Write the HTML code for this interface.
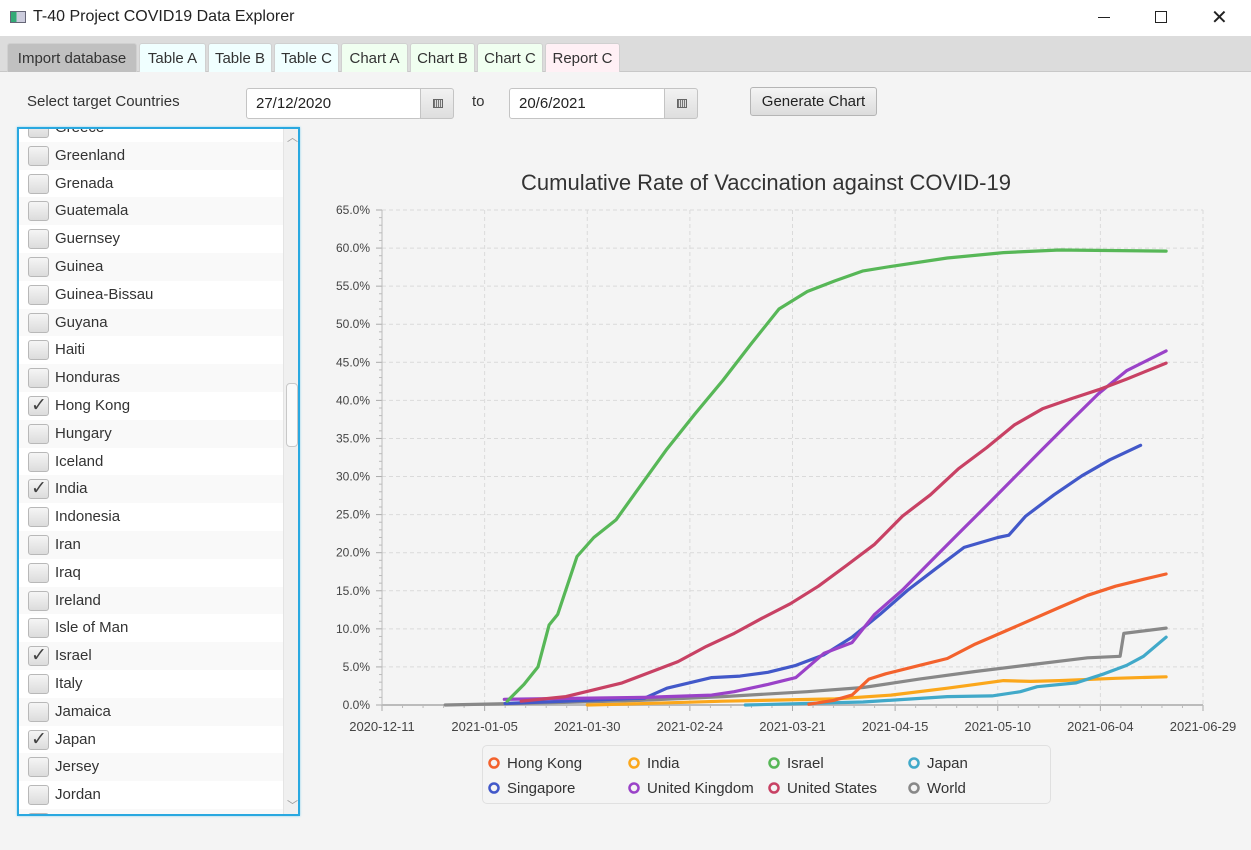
<!DOCTYPE html>
<html><head><meta charset="utf-8">
<style>
*{box-sizing:border-box}
body{margin:0;width:1251px;height:850px;overflow:hidden;background:#f4f4f4;font-family:"Liberation Sans",sans-serif;color:#333;position:relative}
.abs{position:absolute}
#titlebar{left:0;top:0;width:1251px;height:36px;background:#fff}
#tabbar{left:0;top:36px;width:1251px;height:36px;background:#dcdcdc;border-bottom:1px solid #c8c8c8}
.tab{position:absolute;top:7px;height:29px;font-size:15px;line-height:29px;text-align:center;border:1px solid #d0d0d0;border-bottom:none;border-radius:3px 3px 0 0}
.dp{height:31px;background:#fff;border:1px solid #c4c4c4;border-radius:3px;font-size:15px;line-height:29px;padding-left:9px;color:#222}
.dpb{height:31px;background:linear-gradient(#f2f2f2,#dedede);border:1px solid #c4c4c4;border-radius:0 3px 3px 0}
.row{position:absolute;left:0;width:265px;height:28px;font-size:15px;line-height:28px;padding-left:36px;color:#333}
.cb{position:absolute;left:9px;top:4px;width:21px;height:20px;border:1px solid #b8b8b8;border-radius:3px;background:linear-gradient(#f5f5f5,#dcdcdc)}
.cb span{position:absolute;left:2px;top:-5px;font-size:19px;color:#444}
</style></head><body>
<div class="abs" id="titlebar">
  <div class="abs" style="left:10px;top:11px;width:16px;height:12px;border:1px solid #667;background:linear-gradient(90deg,#3a7 0 40%,#ccd 40%)"></div>
  <div class="abs" style="left:33px;top:8px;font-size:16px;color:#222">T-40 Project COVID19 Data Explorer</div>
  <div class="abs" style="left:1098px;top:17px;width:12px;height:1px;background:#222"></div>
  <div class="abs" style="left:1155px;top:11px;width:12px;height:12px;border:1px solid #222"></div>
  <div class="abs" style="left:1211px;top:5px;font-size:20px;color:#222">✕</div>
</div>
<div class="abs" id="tabbar">
  <div class="tab" style="left:7px;width:130px;background:#c0c0c0">Import database</div>
  <div class="tab" style="left:139px;width:67px;background:#f0ffff">Table A</div>
  <div class="tab" style="left:208px;width:64px;background:#f0ffff">Table B</div>
  <div class="tab" style="left:274px;width:65px;background:#f0ffff">Table C</div>
  <div class="tab" style="left:341px;width:67px;background:#f0fff0">Chart A</div>
  <div class="tab" style="left:410px;width:65px;background:#f0fff0">Chart B</div>
  <div class="tab" style="left:477px;width:66px;background:#f0fff0">Chart C</div>
  <div class="tab" style="left:545px;width:75px;background:#fff0f5">Report C</div>
</div>
<div class="abs" style="left:27px;top:93px;font-size:15px">Select target Countries</div>
<div class="abs dp" style="left:246px;top:88px;width:176px">27/12/2020</div>
<div class="abs dpb" style="left:420px;top:88px;width:34px"><div class="abs" style="left:12px;top:10px;width:10px;height:9px;border:1px solid #666;background:repeating-linear-gradient(90deg,#777 0 1px,#ddd 1px 2px)"></div></div>
<div class="abs" style="left:472px;top:93px;font-size:15px">to</div>
<div class="abs dp" style="left:509px;top:88px;width:157px">20/6/2021</div>
<div class="abs dpb" style="left:664px;top:88px;width:34px"><div class="abs" style="left:12px;top:10px;width:10px;height:9px;border:1px solid #666;background:repeating-linear-gradient(90deg,#777 0 1px,#ddd 1px 2px)"></div></div>
<div class="abs" style="left:750px;top:87px;width:127px;height:29px;border:1px solid #b5b5b5;border-radius:3px;background:linear-gradient(#f4f4f4,#dcdcdc);font-size:15px;line-height:27px;text-align:center;color:#222">Generate Chart</div>

<div class="abs" style="left:17px;top:127px;width:283px;height:689px;border:2px solid #29a8e0;box-shadow:0 0 2px #7fd0f0;background:#fff;overflow:hidden">
  <div id="rows"></div>
  <div class="abs" style="left:264px;top:0;width:16px;height:687px;background:#f0f0f0;border-left:1px solid #e4e4e4">
    <div class="abs" style="left:2px;top:254px;width:12px;height:64px;background:#fafafa;border:1px solid #c8c8c8;border-radius:4px"></div>
    <div class="abs" style="left:3px;top:0px;font-size:11px;color:#999">︿</div>
    <div class="abs" style="left:3px;top:668px;font-size:11px;color:#999">﹀</div>
  </div>
</div>

<div class="abs" style="left:482px;top:745px;width:569px;height:59px;border:1px solid #e0e0e0;border-radius:5px;background:#f4f4f4"></div>

<svg class="abs" id="chart" style="left:0;top:0" width="1251" height="850"></svg>

<script>
const countries=["Greece","Greenland","Grenada","Guatemala","Guernsey","Guinea","Guinea-Bissau","Guyana","Haiti","Honduras","Hong Kong","Hungary","Iceland","India","Indonesia","Iran","Iraq","Ireland","Isle of Man","Israel","Italy","Jamaica","Japan","Jersey","Jordan","Kazakhstan"];
const checked=["Hong Kong","India","Israel","Japan"];
const rowsEl=document.getElementById('rows');
countries.forEach((c,i)=>{
  const r=document.createElement('div');
  r.className='row';
  r.style.top=(-15+i*27.8)+'px';
  r.style.background=i%2?'#f9f9f9':'#fff';
  
  
  const cb=document.createElement('div');cb.className='cb';
  
  
  if(checked.includes(c)){const s=document.createElement('span');s.textContent='✓';cb.appendChild(s);}
  r.appendChild(cb);
  r.appendChild(document.createTextNode(c));
  rowsEl.appendChild(r);
});

// ---- chart data (day offset from 2020-12-11, cumulative % vaccinated) ----
const seriesNames=["Hong Kong","India","Israel","Japan","Singapore","United Kingdom","United States","World"];
const seriesColors=["#f3622d","#fba71b","#57b757","#41a9c9","#4258c9","#9a42c8","#c84164","#888888"];
const hkDays=[104,110,114.5,118.6,122.7,130.9,137.7,144.5,151.4,158.2,165,171.9,178.7,185.5,191];
const hkVals=[0.1,0.6,1.3,3.4,4.1,5.2,6.1,8,9.6,11.2,12.8,14.4,15.6,16.5,17.2];
const inDays=[50,58.5,83,110.4,124,137.7,144.5,151.4,158,165,178.7,191];
const inVals=[0,0.1,0.5,0.8,1.3,2.2,2.7,3.2,3.1,3.2,3.5,3.7];
const ilDays=[30.5,34.6,38,40.7,42.8,47.5,51.6,57,61.9,69.4,76.2,83,89.9,96.7,103.6,110.4,117.2,124,137.7,151.4,165,191];
const ilVals=[0.5,2.7,5,10.5,11.9,19.5,22,24.3,28,33.6,38.2,42.6,47.4,52,54.3,55.7,57,57.6,58.7,59.4,59.75,59.6];
const jpDays=[88.5,117.2,137.7,148.6,155.5,159.6,169.1,175.9,181.4,185.5,191];
const jpVals=[0,0.4,1.1,1.2,1.75,2.4,2.9,4.1,5.2,6.4,8.9];
const sgDays=[30,64,69.4,80.3,87.2,94,100.8,107.7,114.5,121.3,128.1,134.9,141.8,150,152.7,156.8,163.7,170.5,177.3,184.8];
const sgVals=[0.2,0.9,2.2,3.6,3.8,4.3,5.2,6.6,8.9,11.9,15.1,17.9,20.7,22,22.3,24.8,27.6,30.1,32.2,34.1];
const ukDays=[29.8,63.9,80.3,85.8,94,100.8,107.7,114.5,120,126.8,133.6,140.4,147.3,154.1,160.9,167.8,174.6,181.4,191];
const ukVals=[0.75,1,1.3,1.75,2.7,3.6,6.8,8.2,11.9,15.1,18.8,22.5,26.2,29.9,33.6,37.3,40.9,43.9,46.5];
const usDays=[33.9,44.8,51.6,58.5,65.3,72.1,79,85.8,92.6,99.5,106.3,113.1,120,126.8,133.6,140.4,147.3,154.1,160.9,167.8,174.6,181.4,191];
const usVals=[0.5,1.1,2,2.9,4.3,5.7,7.7,9.4,11.4,13.3,15.6,18.3,21.1,24.8,27.6,31,33.8,36.8,38.9,40.2,41.4,42.8,44.9];
const wDays=[15.4,42,62.6,83,103.6,117.2,130.9,144.5,158.2,171.9,179.8,180.7,191];
const wVals=[0,0.3,0.6,1.1,1.75,2.3,3.4,4.4,5.3,6.2,6.4,9.4,10.1];
const xTickLabels=["2020-12-11","2021-01-05","2021-01-30","2021-02-24","2021-03-21","2021-04-15","2021-05-10","2021-06-04","2021-06-29"];
const xTickDays=[0,25,50,75,100,125,150,175,200];
const yTicks=[0,5,10,15,20,25,30,35,40,45,50,55,60,65];

const X0=382,X1=1203,Y0=705,Y1=210,DMAX=200,VMAX=65;
const xs=d=>X0+(X1-X0)*d/DMAX;
const ys=v=>Y0-(Y0-Y1)*v/VMAX;
const svg=document.getElementById('chart');
const NS='http://www.w3.org/2000/svg';
function mk(tag,attrs,parent){const e=document.createElementNS(NS,tag);for(const k in attrs)e.setAttribute(k,attrs[k]);(parent||svg).appendChild(e);return e;}

const t=mk('text',{x:766,y:190,'text-anchor':'middle','font-size':22,fill:'#333','font-family':'Liberation Sans, sans-serif'});
t.textContent='Cumulative Rate of Vaccination against COVID-19';



const grid=mk('g',{});


yTicks.forEach(v=>{
  if(v>0) mk('line',{x1:X0,x2:X1,y1:ys(v),y2:ys(v),stroke:'#dadada','stroke-dasharray':'4 3'},grid);
  const l=mk('text',{x:370,y:ys(v)+4,'text-anchor':'end','font-size':12,fill:'#444','font-family':'Liberation Sans, sans-serif'});
  l.textContent=v.toFixed(1)+'%';
  
  
  mk('line',{x1:X0-6,x2:X0,y1:ys(v),y2:ys(v),stroke:'#aaa'});
});
for(let v=1;v<65;v++){if(v%5) mk('line',{x1:X0-3,x2:X0,y1:ys(v),y2:ys(v),stroke:'#bbb'});}
xTickDays.forEach((d,i)=>{
  if(d>0) mk('line',{x1:xs(d),x2:xs(d),y1:Y1,y2:Y0,stroke:'#dadada','stroke-dasharray':'4 3'},grid);
  mk('line',{x1:xs(d),x2:xs(d),y1:Y0,y2:Y0+6,stroke:'#aaa'});
  const l=mk('text',{x:xs(d),y:731,'text-anchor':'middle','font-size':13,fill:'#444','font-family':'Liberation Sans, sans-serif'});
  l.textContent=xTickLabels[i];
  
  
});
for(let d=5;d<200;d+=5){if(d%25) mk('line',{x1:xs(d),x2:xs(d),y1:Y0,y2:Y0+3,stroke:'#bbb'});}
mk('line',{x1:X0,x2:X0,y1:Y1,y2:Y0,stroke:'#bbb'});
mk('line',{x1:X0,x2:X1,y1:Y0,y2:Y0,stroke:'#bbb','stroke-width':2});

const allDays=[hkDays,inDays,ilDays,jpDays,sgDays,ukDays,usDays,wDays];
const allVals=[hkVals,inVals,ilVals,jpVals,sgVals,ukVals,usVals,wVals];
const order=[7,1,3,0,4,5,6,2];
order.forEach(i=>{
  const pts=allDays[i].map((d,j)=>xs(d).toFixed(1)+','+ys(allVals[i][j]).toFixed(1)).join(' ');
  const p=mk('polyline',{points:pts,fill:'none',stroke:seriesColors[i],'stroke-width':3.2,'stroke-linejoin':'round','stroke-linecap':'round'});
  
  
});

const legX=[494,634,774,914],legY=[763,788];
seriesNames.forEach((n,i)=>{
  const lx=legX[i%4],ly=legY[Math.floor(i/4)];
  const c=mk('circle',{cx:lx,cy:ly,r:4.5,fill:'none',stroke:seriesColors[i],'stroke-width':2.5});
  
  
  const tx=mk('text',{x:lx+13,y:ly+5,'font-size':15,fill:'#333','font-family':'Liberation Sans, sans-serif'});
  tx.textContent=n;
  
  
});
</script>
</body></html>
